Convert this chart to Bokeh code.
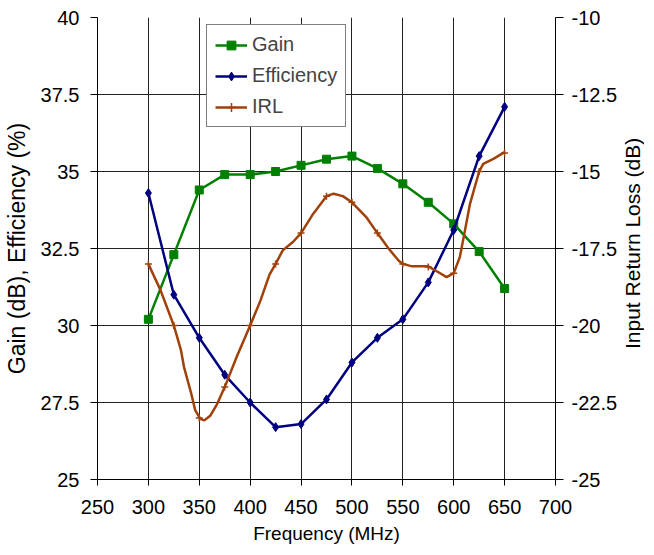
from bokeh.plotting import figure
from bokeh.models import Range1d, LinearAxis, FixedTicker, Legend, LegendItem, Div
from bokeh.layouts import row
from bokeh.embed import file_html
from bokeh.resources import INLINE

# ---- data ----
freq = [300, 325, 350, 375, 400, 425, 450, 475, 500, 525, 550, 575, 600, 625, 650]
gain = [30.2, 32.3, 34.4, 34.9, 34.9, 35.0, 35.2, 35.4, 35.5, 35.1, 34.6, 34.0, 33.3, 32.4, 31.2]
efficiency = [34.3, 31.0, 29.6, 28.4, 27.5, 26.7, 26.8, 27.6, 28.8, 29.6, 30.2, 31.4, 33.1, 35.5, 37.1]
irl = [-18.0, -20.0, -23.0, -22.0, -20.0, -18.0, -17.0, -15.8, -16.0, -17.0, -18.0, -18.1, -18.3, -15.0, -14.4]

# IRL trace (curve between markers)
irl_trace_freq = [300, 312, 325, 332, 335, 342, 346, 351, 355, 361, 367.5, 375, 387, 400, 410, 419,
                  425, 432, 442, 450, 462, 475, 482, 491, 500, 514, 525, 536, 546, 550, 559,
                  575, 585, 593, 600, 606, 611, 616, 625, 629, 639, 650]
irl_trace = [-18.0, -18.86, -20.0, -20.8, -21.35, -22.2, -22.75, -23.03, -23.08, -22.92, -22.55, -22.0,
             -21.0, -20.0, -19.2, -18.35, -18.0, -17.56, -17.29, -17.0, -16.37, -15.8, -15.72, -15.8,
             -16.0, -16.48, -17.0, -17.5, -17.9, -18.0, -18.08, -18.08, -18.27, -18.43, -18.3,
             -17.78, -16.92, -16.05, -15.0, -14.75, -14.59, -14.37]

x_ticks = [250, 300, 350, 400, 450, 500, 550, 600, 650, 700]
y_ticks = [25, 27.5, 30, 32.5, 35, 37.5, 40]
y_tick_labels = ["25", "27.5", "30", "32.5", "35", "37.5", "40"]
y2_ticks = [-25, -22.5, -20, -17.5, -15, -12.5, -10]
y2_tick_labels = ["-25", "-22.5", "-20", "-17.5", "-15", "-12.5", "-10"]
right_axis_title = "Input Return Loss (dB)"

GREEN = "#008000"
NAVY = "#000080"
BROWN = "#A0400A"
FONT = "Liberation Sans"

p = figure(width=620, height=547,
           x_range=Range1d(250, 700), y_range=Range1d(25, 40),
           output_backend="svg", toolbar_location=None,
           min_border_left=96, min_border_top=17, min_border_right=62, min_border_bottom=68)
p.extra_y_ranges = {"irl": Range1d(-25, -10)}
p.outline_line_color = None
p.background_fill_color = "white"

# grid
for g in (p.xgrid, p.ygrid):
    g.grid_line_color = "#222222"
    g.grid_line_width = 1
p.xgrid.ticker = FixedTicker(ticks=x_ticks)
p.ygrid.ticker = FixedTicker(ticks=y_ticks)

# axes
xa = p.xaxis[0]
xa.ticker = FixedTicker(ticks=x_ticks)
xa.axis_label = "Frequency (MHz)"
xa.major_tick_out = 6
xa.major_label_standoff = 14
xa.axis_label_standoff = 6

ya = p.yaxis[0]
ya.ticker = FixedTicker(ticks=y_ticks)
ya.major_label_overrides = {t: l for t, l in zip(y_ticks, y_tick_labels)}
ya.axis_label = "Gain (dB), Efficiency (%)"
ya.major_tick_out = 7
ya.major_label_standoff = 11
ya.axis_label_standoff = 8

ya2 = LinearAxis(y_range_name="irl", ticker=FixedTicker(ticks=y2_ticks))
ya2.major_label_overrides = {t: l for t, l in zip(y2_ticks, y2_tick_labels)}
ya2.major_tick_out = 8
ya2.major_label_standoff = 8
p.add_layout(ya2, "right")

for ax in (xa, ya, ya2):
    ax.axis_line_color = "black"
    ax.major_tick_line_color = "black"
    ax.major_tick_in = 0
    ax.minor_tick_line_color = None
    ax.major_label_text_font = FONT
    ax.major_label_text_font_size = "20px"
    ax.major_label_text_color = "black"
    ax.axis_label_text_font = FONT
    ax.axis_label_text_font_style = "normal"
    ax.axis_label_text_color = "black"
    ax.axis_label_text_font_size = "19px"
ya.axis_label_text_font_size = "23px"

# series
gl = p.line(freq, gain, line_color=GREEN, line_width=2.5)
gm = p.scatter(freq, gain, marker="square", size=8, fill_color=GREEN, line_color=GREEN)
el = p.line(freq, efficiency, line_color=NAVY, line_width=2.5)
em = p.scatter(freq, efficiency, marker="diamond", size=9, fill_color=NAVY, line_color=NAVY)
il = p.line(irl_trace_freq, irl_trace, line_color=BROWN, line_width=2.5, y_range_name="irl")
im = p.scatter(freq, irl, marker="cross", size=7, line_color=BROWN, line_width=1.5, y_range_name="irl")

legend = Legend(items=[LegendItem(label="Gain", renderers=[gl, gm]),
                       LegendItem(label="Efficiency", renderers=[el, em]),
                       LegendItem(label="IRL", renderers=[il, im])],
                location=(109, 352))
legend.border_line_color = "black"
legend.border_line_width = 1
legend.background_fill_color = "white"
legend.background_fill_alpha = 1
legend.label_text_font = FONT
legend.label_text_font_size = "20px"
legend.glyph_width = 32
legend.label_height = 22
legend.glyph_height = 22
legend.spacing = 8
legend.padding = 8
legend.margin = 0
legend.label_standoff = 5
p.add_layout(legend, "center")

# right axis title (reads bottom-to-top, as in the reference)
title_div = Div(
    text=('<div style="writing-mode: vertical-rl; transform: rotate(180deg); '
          'font-family: \'Liberation Sans\'; font-size: 21px; color: black; '
          'height: 462px; line-height: 26px; text-align: center; white-space: nowrap;">'
          + right_axis_title + '</div>'),
    width=26, height=547, styles={"padding-top": "12px", "margin": "0"})

layout = row(p, title_div, spacing=0)
open("out.html", "w").write(file_html(layout, INLINE))
